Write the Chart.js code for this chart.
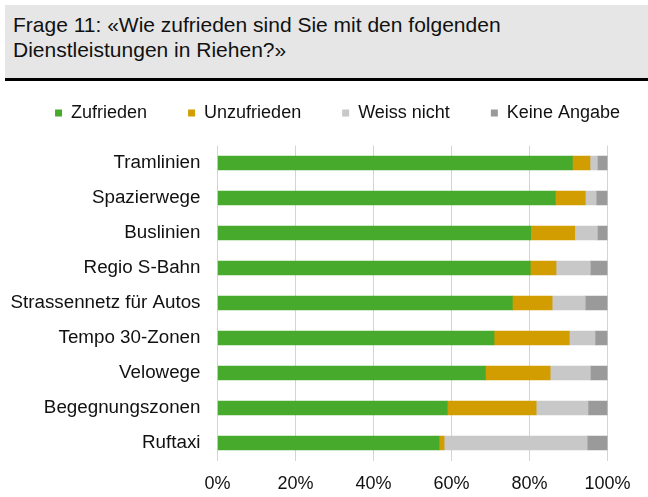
<!DOCTYPE html>
<html lang="de">
<head>
<meta charset="UTF-8">
<title>Frage 11</title>
<style>
  * { box-sizing: border-box; margin: 0; padding: 0; }
  body { width: 648px; height: 497px; background: #fff; position: relative; overflow: hidden;
         font-family: 'Liberation Sans', Arial, sans-serif; }
  .head { position: absolute; left: 5px; top: 5px; width: 643px; height: 76px;
          background: #e6e6e6; border-bottom: 3px solid #000;
          padding: 6.5px 0 0 8px; font-size: 21px; line-height: 25.5px; color: #111; }
  #chart { position: absolute; left: 0; top: 0; }
</style>
</head>
<body>
<div class="head">Frage 11: «Wie zufrieden sind Sie mit den folgenden<br>Dienstleistungen in Riehen?»</div>
<canvas id="chart" width="648" height="497"></canvas>

<script src="https://cdn.jsdelivr.net/npm/chart.js@4/dist/chart.umd.min.js"></script>
<script>
// values, in percent
const categories = ['Tramlinien', 'Spazierwege', 'Buslinien', 'Regio S-Bahn', 'Strassennetz für Autos',
                    'Tempo 30-Zonen', 'Velowege', 'Begegnungszonen', 'Ruftaxi'];
const zufrieden   = [91.0, 86.6, 80.3, 80.2, 75.6, 70.9, 68.7, 58.9, 56.8];
const unzufrieden = [ 4.5,  7.7, 11.3,  6.6, 10.2, 19.3, 16.6, 22.8,  1.3];
const weissNicht  = [ 1.9,  2.8,  5.8,  8.8,  8.5,  6.6, 10.3, 13.3, 36.7];
const keineAngabe = [ 2.6,  2.9,  2.6,  4.4,  5.7,  3.2,  4.4,  5.0,  5.2];
const xTicks = [0, 20, 40, 60, 80, 100];

Chart.defaults.font.family = "'Liberation Sans', Arial, sans-serif";
Chart.defaults.font.size = 18;
Chart.defaults.color = '#111';

// legend needs wide gaps between items but a short box, all on one row
const legendFit = {
  id: 'legendFit',
  beforeLayout(chart) {
    const lg = chart.legend;
    if (!lg || lg._fitPatched) return;
    const fit = lg.fit;
    lg.fit = function () {
      this.maxWidth = Math.max(this.maxWidth, 760);
      fit.call(this);
      this.height = 82.6;
    };
    lg._fitPatched = true;
  },
  afterLayout(chart) {
    const lg = chart.legend;
    // centre the row at x = 337.5
    lg.left = -50;
    lg.right = 725;
    lg.width = lg.right - lg.left;
  }
};

const seg = (label, data, color) => ({
  label, data, backgroundColor: color, borderWidth: 0, barThickness: 14
});

new Chart(document.getElementById('chart'), {
  type: 'bar',
  data: {
    labels: categories,
    datasets: [
      seg('Zufrieden', zufrieden, '#47aa2c'),
      seg('Unzufrieden', unzufrieden, '#d19d00'),
      seg('Weiss nicht', weissNicht, '#c8c8c8'),
      seg('Keine Angabe', keineAngabe, '#9a9a9a')
    ]
  },
  options: {
    indexAxis: 'y',
    responsive: false,
    animation: false,
    layout: { padding: { top: 62.9, left: 2, right: 40.5, bottom: 1.5 } },
    plugins: {
      legend: {
        position: 'top',
        labels: { boxWidth: 7, boxHeight: 7, padding: 41, color: '#111' }
      },
      tooltip: { enabled: false }
    },
    scales: {
      x: {
        stacked: true,
        min: 0,
        max: 100,
        afterBuildTicks: s => { s.ticks = xTicks.map(v => ({ value: v })); },
        afterFit: s => { s.height = 35; },
        ticks: { padding: 13, color: '#111', callback: v => v + '%' },
        grid: { color: '#cdd6de', lineWidth: 1, drawTicks: false },
        border: { display: false }
      },
      y: {
        stacked: true,
        afterFit: s => { s.width = 215.5; },
        ticks: { padding: 17, color: '#111', font: { size: 18.8 } },
        grid: { display: false, drawTicks: false },
        border: { display: false }
      }
    }
  },
  plugins: [legendFit]
});
</script>
</body>
</html>
